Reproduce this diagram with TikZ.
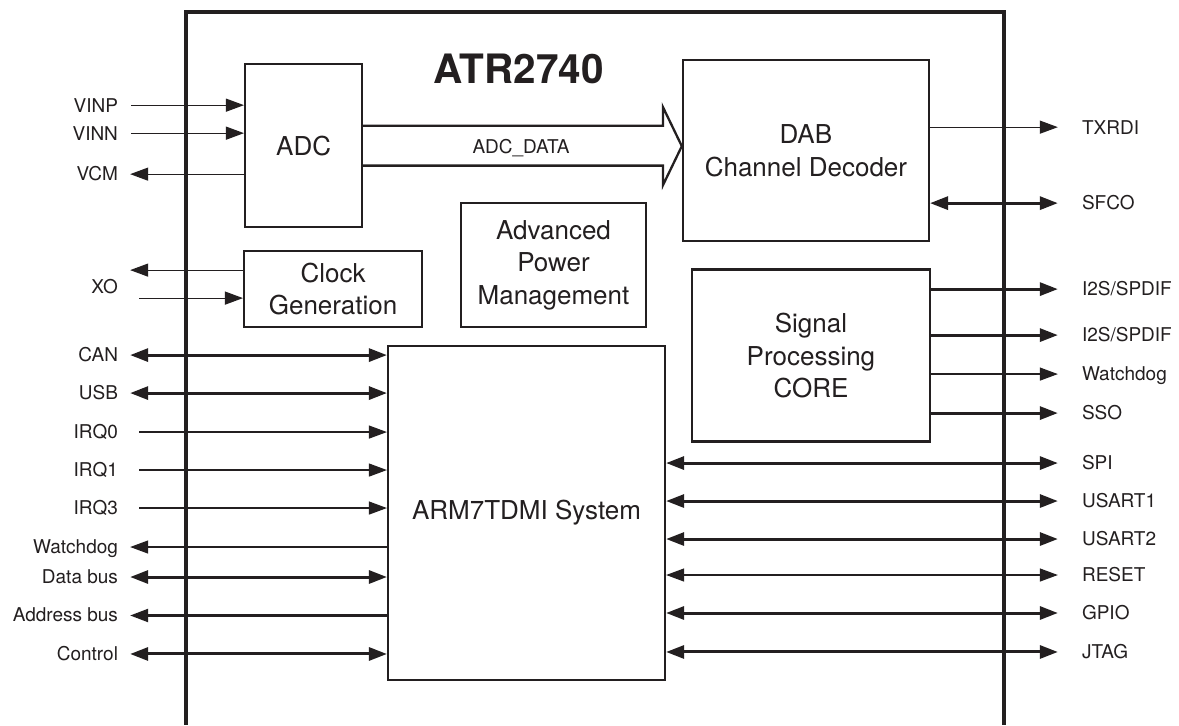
\documentclass[tikz,border=0pt]{standalone}
\usepackage{fontspec}
\setmainfont{TeX Gyre Heros}
\usetikzlibrary{arrows.meta}
\definecolor{ink}{RGB}{35,31,32}
\begin{document}
\begin{tikzpicture}[x=1pt,y=-1pt,
  every path/.style={draw=ink},
  blk/.style={draw=ink, line width=2.3pt, inner sep=0pt, align=center, text=ink,
    font=\fontsize{26}{32.5}\selectfont},
  lab/.style={inner sep=0pt, text=ink, font=\fontsize{19}{20}\selectfont,
    text height=13.7pt, text depth=0pt},
  tip/.tip={Triangle[length=18pt,width=13pt]},
  thinw/.style={line width=1.2pt},
  medw/.style={line width=2.2pt},
  thickw/.style={line width=3pt},
  sigin/.style={-{tip}, fill=ink},
  sigout/.style={-{tip}, fill=ink},
  sigbi/.style={{tip}-{tip}, fill=ink},
]
\useasboundingbox (0,0) rectangle (1179,725);
\fill[white] (0,0) rectangle (1179,725);

% outer frame
\coordinate (fbl) at (186,725);
\coordinate (ftl) at (186,12);
\coordinate (ftr) at (1004,12);
\coordinate (fbr) at (1004,725);
\draw[line width=4pt] (fbl) -- (ftl) -- (ftr) -- (fbr);

\node[text=ink, font=\fontsize{40.5}{42}\selectfont\bfseries] (title) at (518.5,69) {ATR2740};

% blocks
\node[blk, minimum width=117pt, minimum height=163pt] (adc) at (303.5,145.5) {ADC};
\node[blk, minimum width=178pt, minimum height=76pt] (clk) at (333,288.7) {Clock\\Generation};
\node[blk, minimum width=185pt, minimum height=124pt] (apm) at (553.5,265) {Advanced\\Power\\Management};
\node[blk, minimum width=246pt, minimum height=181pt] (dab) at (806,150.5) {DAB\\Channel Decoder};
\node[blk, minimum width=238pt, minimum height=172pt] (sp) at (811,355.5) {Signal\\Processing\\CORE};
\node[blk, minimum width=277pt, minimum height=334pt] (arm) at (526.5,513) {ARM7TDMI System};

% ADC_DATA bus arrow
\coordinate (bs1) at ([yshift=-20pt]adc.east |- dab.west);
\coordinate (bs2) at ([yshift=20.5pt]adc.east |- dab.west);
\draw[line width=2.3pt, line join=miter, fill=white]
  (bs1 |- 0,125.5) -- (663,125.5) -- (663,107) -- (dab.west |- 0,146) -- (663,185) -- (663,165.5) -- (bs2 |- 0,165.5);
\node[lab] (adcdata) at (521,146) {ADC\_DATA};

% left labels
\foreach \nm/\t/\y in {vinp/VINP/105, vinn/VINN/133, vcm/VCM/174, xo/XO/287,
  can/CAN/355, usb/USB/393, irqa/IRQ0/432, irqb/IRQ1/470, irqc/IRQ3/508,
  wdl/Watchdog/547, dbus/Data bus/577, abus/Address bus/615, ctrl/Control/654}
  \node[lab, anchor=east] (L\nm) at (118,\y) {\t};

% left pin points
\coordinate (pvinp) at (131,105);
\coordinate (pvinn) at (131,133);
\coordinate (pvcm) at (130,174);
\coordinate (pxoa) at (130,270);
\coordinate (pxob) at (139,298);
\coordinate (pcan) at (130,355);
\coordinate (pusb) at (130,393);
\coordinate (pirqa) at (139,432);
\coordinate (pirqb) at (139,470);
\coordinate (pirqc) at (139,508);
\coordinate (pwdl) at (130,547);
\coordinate (pdbus) at (130,577);
\coordinate (pabus) at (130,615.5);
\coordinate (pctrl) at (130,654);

\draw[thinw, sigin] (pvinp) -- (pvinp -| adc.west);
\draw[thinw, sigin] (pvinn) -- (pvinn -| adc.west);
\draw[thinw, sigout] (pvcm -| adc.west) -- (pvcm);
\draw[thinw, sigout] (pxoa -| clk.west) -- (pxoa);
\draw[thinw, sigin] (pxob) -- (pxob -| clk.west);
\draw[thickw, sigbi] (pcan) -- (pcan -| arm.west);
\draw[thickw, sigbi] (pusb) -- (pusb -| arm.west);
\draw[thinw, sigin] (pirqa) -- (pirqa -| arm.west);
\draw[thinw, sigin] (pirqb) -- (pirqb -| arm.west);
\draw[thinw, sigin] (pirqc) -- (pirqc -| arm.west);
\draw[thinw, sigout] (pwdl -| arm.west) -- (pwdl);
\draw[thickw, sigbi] (pdbus) -- (pdbus -| arm.west);
\draw[medw, sigout] (pabus -| arm.west) -- (pabus);
\draw[thickw, sigbi] (pctrl) -- (pctrl -| arm.west);

% right labels
\foreach \nm/\t/\y in {txrdi/TXRDI/127, sfco/SFCO/203, isa/I2S\slash SPDIF/289,
  isb/I2S\slash SPDIF/335, wdr/Watchdog/374, sso/SSO/413, spi/SPI/463,
  usa/USART1/501, usb/USART2/539, rst/RESET/575, gpio/GPIO/613, jtag/JTAG/652}
  \node[lab, anchor=west] (R\nm) at (1082,\y) {\t};

\coordinate (qtxrdi) at (1058,127);
\coordinate (qsfco) at (1058,203);
\coordinate (qisa) at (1058,289);
\coordinate (qisb) at (1058,335);
\coordinate (qwdr) at (1058,374);
\coordinate (qsso) at (1058,413);
\coordinate (qspi) at (1058,463);
\coordinate (qusa) at (1058,501);
\coordinate (qusb) at (1058,539);
\coordinate (qrst) at (1058,575);
\coordinate (qgpio) at (1058,613);
\coordinate (qjtag) at (1058,652);

\draw[thinw, sigout] (qtxrdi -| dab.east) -- (qtxrdi);
\draw[thickw, sigbi] (qsfco -| dab.east) -- (qsfco);
\draw[thickw, sigout] (qisa -| sp.east) -- (qisa);
\draw[thickw, sigout] (qisb -| sp.east) -- (qisb);
\draw[thinw, sigout] (qwdr -| sp.east) -- (qwdr);
\draw[thickw, sigout] (qsso -| sp.east) -- (qsso);
\draw[thickw, sigbi] (qspi -| arm.east) -- (qspi);
\draw[thickw, sigbi] (qusa -| arm.east) -- (qusa);
\draw[thickw, sigbi] (qusb -| arm.east) -- (qusb);
\draw[thinw, sigbi] (qrst -| arm.east) -- (qrst);
\draw[thickw, sigbi] (qgpio -| arm.east) -- (qgpio);
\draw[thickw, sigbi] (qjtag -| arm.east) -- (qjtag);
\end{tikzpicture}
\end{document}
